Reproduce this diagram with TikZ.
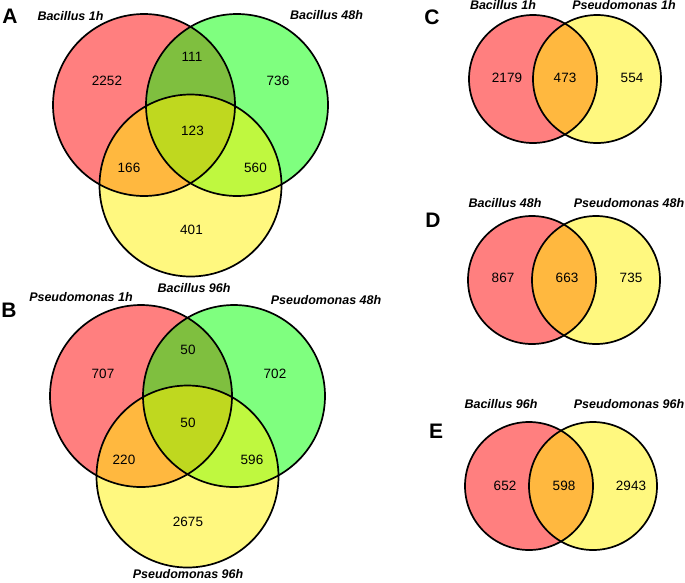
\documentclass[tikz,border=0pt]{standalone}
\usepackage{fontspec}
\setmainfont{Liberation Sans}
\tikzset{
  setred/.style={fill=red, fill opacity=0.5},
  setgreen/.style={fill=green, fill opacity=0.5},
  setyellow/.style={fill=yellow, fill opacity=0.5},
  ring/.style={draw=black, line width=1.7pt},
  num/.style={font=\fontsize{13.5}{15}\selectfont, inner sep=0pt},
  setlabel/.style={font=\fontsize{12.5}{14}\selectfont\bfseries\itshape, inner sep=0pt},
  panel/.style={font=\fontsize{21}{24}\selectfont\bfseries, inner sep=0pt}
}
\begin{document}
\begin{tikzpicture}[x=1pt,y=-1pt]
\useasboundingbox (0,0) rectangle (685,582);
% ---------- Panel A ----------
\coordinate (ar) at (144,105);
\coordinate (ag) at (237,105);
\coordinate (ay) at (190.5,185.5);
\fill[setred] (ar) circle[radius=91pt];
\fill[setgreen] (ag) circle[radius=91pt];
\fill[setyellow] (ay) circle[radius=91pt];
\draw[ring] (ar) circle[radius=91pt];
\draw[ring] (ag) circle[radius=91pt];
\draw[ring] (ay) circle[radius=91pt];
\node[panel] (pA) at (10,16) {A};
\node[setlabel] (lA1) at (70.5,16.5) {Bacillus 1h};
\node[setlabel] (lA2) at (326.5,15) {Bacillus 48h};
\node[setlabel] (lA3) at (194,288) {Bacillus 96h};
\node[num] (nA1) at (107,81) {2252};
\node[num] (nA2) at (192,57) {111};
\node[num] (nA3) at (278,81) {736};
\node[num] (nA4) at (192.5,131) {123};
\node[num] (nA5) at (129,168) {166};
\node[num] (nA6) at (255.5,168) {560};
\node[num] (nA7) at (191.5,230) {401};
% ---------- Panel B ----------
\coordinate (br) at (141,396);
\coordinate (bg) at (234,396);
\coordinate (by) at (187.5,476.5);
\fill[setred] (br) circle[radius=91pt];
\fill[setgreen] (bg) circle[radius=91pt];
\fill[setyellow] (by) circle[radius=91pt];
\draw[ring] (br) circle[radius=91pt];
\draw[ring] (bg) circle[radius=91pt];
\draw[ring] (by) circle[radius=91pt];
\node[panel] (pB) at (9,310) {B};
\node[setlabel] (lB1) at (81,297) {Pseudomonas 1h};
\node[setlabel] (lB2) at (326,300) {Pseudomonas 48h};
\node[setlabel] (lB3) at (188,574) {Pseudomonas 96h};
\node[num] (nB1) at (103,374) {707};
\node[num] (nB2) at (188,350) {50};
\node[num] (nB3) at (275,374) {702};
\node[num] (nB4) at (188,423) {50};
\node[num] (nB5) at (124,460) {220};
\node[num] (nB6) at (252,460) {596};
\node[num] (nB7) at (188,522) {2675};
% ---------- Panel C ----------
\coordinate (cr) at (533,79);
\coordinate (cy) at (597,79);
\fill[setred] (cr) circle[radius=64pt];
\fill[setyellow] (cy) circle[radius=64pt];
\draw[ring] (cr) circle[radius=64pt];
\draw[ring] (cy) circle[radius=64pt];
\node[panel] (pC) at (432,17) {C};
\node[setlabel] (lC1) at (503,5.5) {Bacillus 1h};
\node[setlabel] (lC2) at (624,5.5) {Pseudomonas 1h};
\node[num] (nC1) at (507,78) {2179};
\node[num] (nC2) at (565,78) {473};
\node[num] (nC3) at (632,78) {554};
% ---------- Panel D ----------
\coordinate (dr) at (532,280);
\coordinate (dy) at (596,280);
\fill[setred] (dr) circle[radius=64pt];
\fill[setyellow] (dy) circle[radius=64pt];
\draw[ring] (dr) circle[radius=64pt];
\draw[ring] (dy) circle[radius=64pt];
\node[panel] (pD) at (433,220) {D};
\node[setlabel] (lD1) at (505,203) {Bacillus 48h};
\node[setlabel] (lD2) at (629,203) {Pseudomonas 48h};
\node[num] (nD1) at (503,278) {867};
\node[num] (nD2) at (567,278) {663};
\node[num] (nD3) at (631,278) {735};
% ---------- Panel E ----------
\coordinate (er) at (529,486);
\coordinate (ey) at (593,486);
\fill[setred] (er) circle[radius=64pt];
\fill[setyellow] (ey) circle[radius=64pt];
\draw[ring] (er) circle[radius=64pt];
\draw[ring] (ey) circle[radius=64pt];
\node[panel] (pE) at (436,431) {E};
\node[setlabel] (lE1) at (501,404) {Bacillus 96h};
\node[setlabel] (lE2) at (629,404) {Pseudomonas 96h};
\node[num] (nE1) at (505,486) {652};
\node[num] (nE2) at (564,486) {598};
\node[num] (nE3) at (631,486) {2943};
\end{tikzpicture}
\end{document}
